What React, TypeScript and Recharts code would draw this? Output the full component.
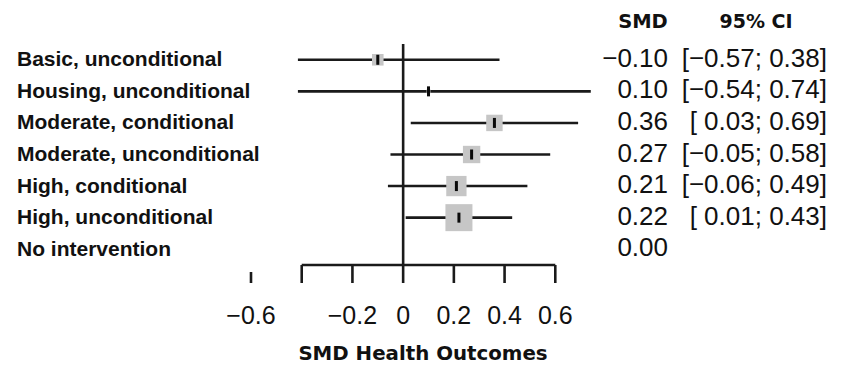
import React from 'react';
import { ScatterChart, Scatter, XAxis, YAxis, ErrorBar, ReferenceLine } from 'recharts';

const categories = [
  'Basic, unconditional',
  'Housing, unconditional',
  'Moderate, conditional',
  'Moderate, unconditional',
  'High, conditional',
  'High, unconditional',
  'No intervention',
];
const smdValues = [-0.1, 0.1, 0.36, 0.27, 0.21, 0.22, 0.0];
const ciLower: (number | null)[] = [-0.57, -0.54, 0.03, -0.05, -0.06, 0.01, null];
const ciUpper: (number | null)[] = [0.38, 0.74, 0.69, 0.58, 0.49, 0.43, null];
const weights = [7.2, 0.8, 14.5, 16.2, 22.1, 39.2, 0];
const xTicks = [-0.6, -0.4, -0.2, 0, 0.2, 0.4, 0.6];
const unlabeledTicks = [-0.4];
const xDomain: [number, number] = [-0.6, 0.8];
const axisLineRange: [number, number] = [-0.4, 0.6];
const plotClipLow = -0.415;

const W = 843;
const H = 368;
const LEFT_W = 251;
const RIGHT_M = 237;
const TOP_M = 44;
const X_AXIS_H = 103;
const PLOT_BOTTOM = H - X_AXIS_H;
const MAX_SIDE = 27;
const LINE = '#1a1a1a';
const SW = 2.6;
const SANS = '"Liberation Sans", Arial, Helvetica, sans-serif';
const WIDE = '"DejaVu Sans", "Liberation Sans", sans-serif';

const nRows = categories.length;
const maxW = Math.max(...weights);

const fmt = (v: number) => (v < 0 ? '\u2212' : '') + Math.abs(v).toFixed(2);
const fmtCI = (v: number) => (v < 0 ? '\u2212' : ' ') + Math.abs(v).toFixed(2);
const fmtTick = (v: number) => (v === 0 ? '0' : (v < 0 ? '\u2212' : '') + Math.abs(v).toString());

const rows = categories.map((label, i) => {
  const lo = ciLower[i];
  const hi = ciUpper[i];
  const smd = smdValues[i];
  return {
    label,
    smd,
    row: nRows - 1 - i,
    lo,
    hi,
    w: weights[i],
    err: lo == null || hi == null ? [0, 0] : [smd - Math.max(lo, plotClipLow), hi - smd],
  };
});

const SquareShape = (props: any) => {
  const { cx, cy, payload } = props;
  if (!payload || !payload.w) return <g />;
  const s = MAX_SIDE * Math.sqrt(payload.w / maxW);
  return <rect x={cx - s / 2} y={cy - s / 2} width={s} height={s} fill="#c6c6c6" />;
};

const EstimateShape = (props: any) => {
  const { cx, cy, payload } = props;
  if (!payload || payload.lo == null) return <g />;
  return <rect x={cx - 1.5} y={cy - 5} width={3} height={10} fill="#0a0a0a" />;
};

const XTick = (props: any) => {
  const { x, payload } = props;
  const v = payload.value;
  const isOuter = v < axisLineRange[0];
  return (
    <g>
      <line
        x1={x}
        x2={x}
        y1={isOuter ? PLOT_BOTTOM + 7 : PLOT_BOTTOM}
        y2={PLOT_BOTTOM + 18}
        stroke={LINE}
        strokeWidth={SW}
      />
      {!unlabeledTicks.includes(v) && (
        <text x={x} y={324} textAnchor="middle" fontSize={25} fontFamily={SANS} fill="#111">
          {fmtTick(v)}
        </text>
      )}
    </g>
  );
};

const YTick = (props: any) => {
  const { y, payload } = props;
  const r = rows.find((d) => d.row === payload.value);
  if (!r) return <g />;
  return (
    <g>
      <text x={17} y={y + 6.5} fontSize={21} fontWeight="bold" fontFamily={SANS} fill="#111">
        {r.label}
      </text>
      <text x={668} y={y + 7} textAnchor="end" fontSize={26} fontFamily={SANS} fill="#111">
        {fmt(r.smd)}
      </text>
      {r.lo != null && r.hi != null && (
        <text
          x={827}
          y={y + 7}
          textAnchor="end"
          fontSize={26}
          fontFamily={SANS}
          fill="#111"
          style={{ whiteSpace: 'pre' }}
        >
          {'[' + fmtCI(r.lo) + '; ' + fmt(r.hi) + ']'}
        </text>
      )}
    </g>
  );
};

const HeaderLabel = () => (
  <g>
    <text x={643} y={28} textAnchor="middle" fontSize={19.5} fontWeight="bold" fontFamily={WIDE} fill="#111">
      SMD
    </text>
    <text x={756} y={28} textAnchor="middle" fontSize={19} fontWeight="bold" fontFamily={WIDE} fill="#111">
      95% CI
    </text>
  </g>
);

const TitleLabel = () => (
  <text x={423} y={360} textAnchor="middle" fontSize={19.8} fontWeight="bold" fontFamily={WIDE} fill="#111">
    SMD Health Outcomes
  </text>
);

export default function App() {
  return (
    <div style={{ position: 'absolute', left: 0, top: 0, background: '#fff' }}>
      <ScatterChart
        width={W}
        height={H}
        margin={{ top: TOP_M, right: RIGHT_M, bottom: 0, left: 0 }}
        data={rows}
      >
        <XAxis
          type="number"
          dataKey="smd"
          domain={xDomain}
          ticks={xTicks}
          interval={0}
          allowDataOverflow
          height={X_AXIS_H}
          axisLine={false}
          tickLine={false}
          tick={<XTick />}
          label={{ content: <TitleLabel /> }}
        />
        <YAxis
          type="number"
          dataKey="row"
          domain={[-0.5, nRows - 0.5]}
          ticks={rows.map((r) => r.row)}
          interval={0}
          width={LEFT_W}
          axisLine={false}
          tickLine={false}
          tick={<YTick />}
          label={{ content: <HeaderLabel /> }}
        />
        <ReferenceLine x={0} stroke={LINE} strokeWidth={SW} ifOverflow="visible" />
        <ReferenceLine
          segment={[
            { x: axisLineRange[0], y: -0.5 },
            { x: axisLineRange[1], y: -0.5 },
          ]}
          stroke={LINE}
          strokeWidth={SW}
          ifOverflow="visible"
        />
        <Scatter data={rows} dataKey="row" shape={<SquareShape />} isAnimationActive={false} />
        <Scatter data={rows} dataKey="row" shape={<EstimateShape />} isAnimationActive={false}>
          <ErrorBar dataKey="err" direction="x" width={0} stroke={LINE} strokeWidth={SW} />
        </Scatter>
      </ScatterChart>
    </div>
  );
}
